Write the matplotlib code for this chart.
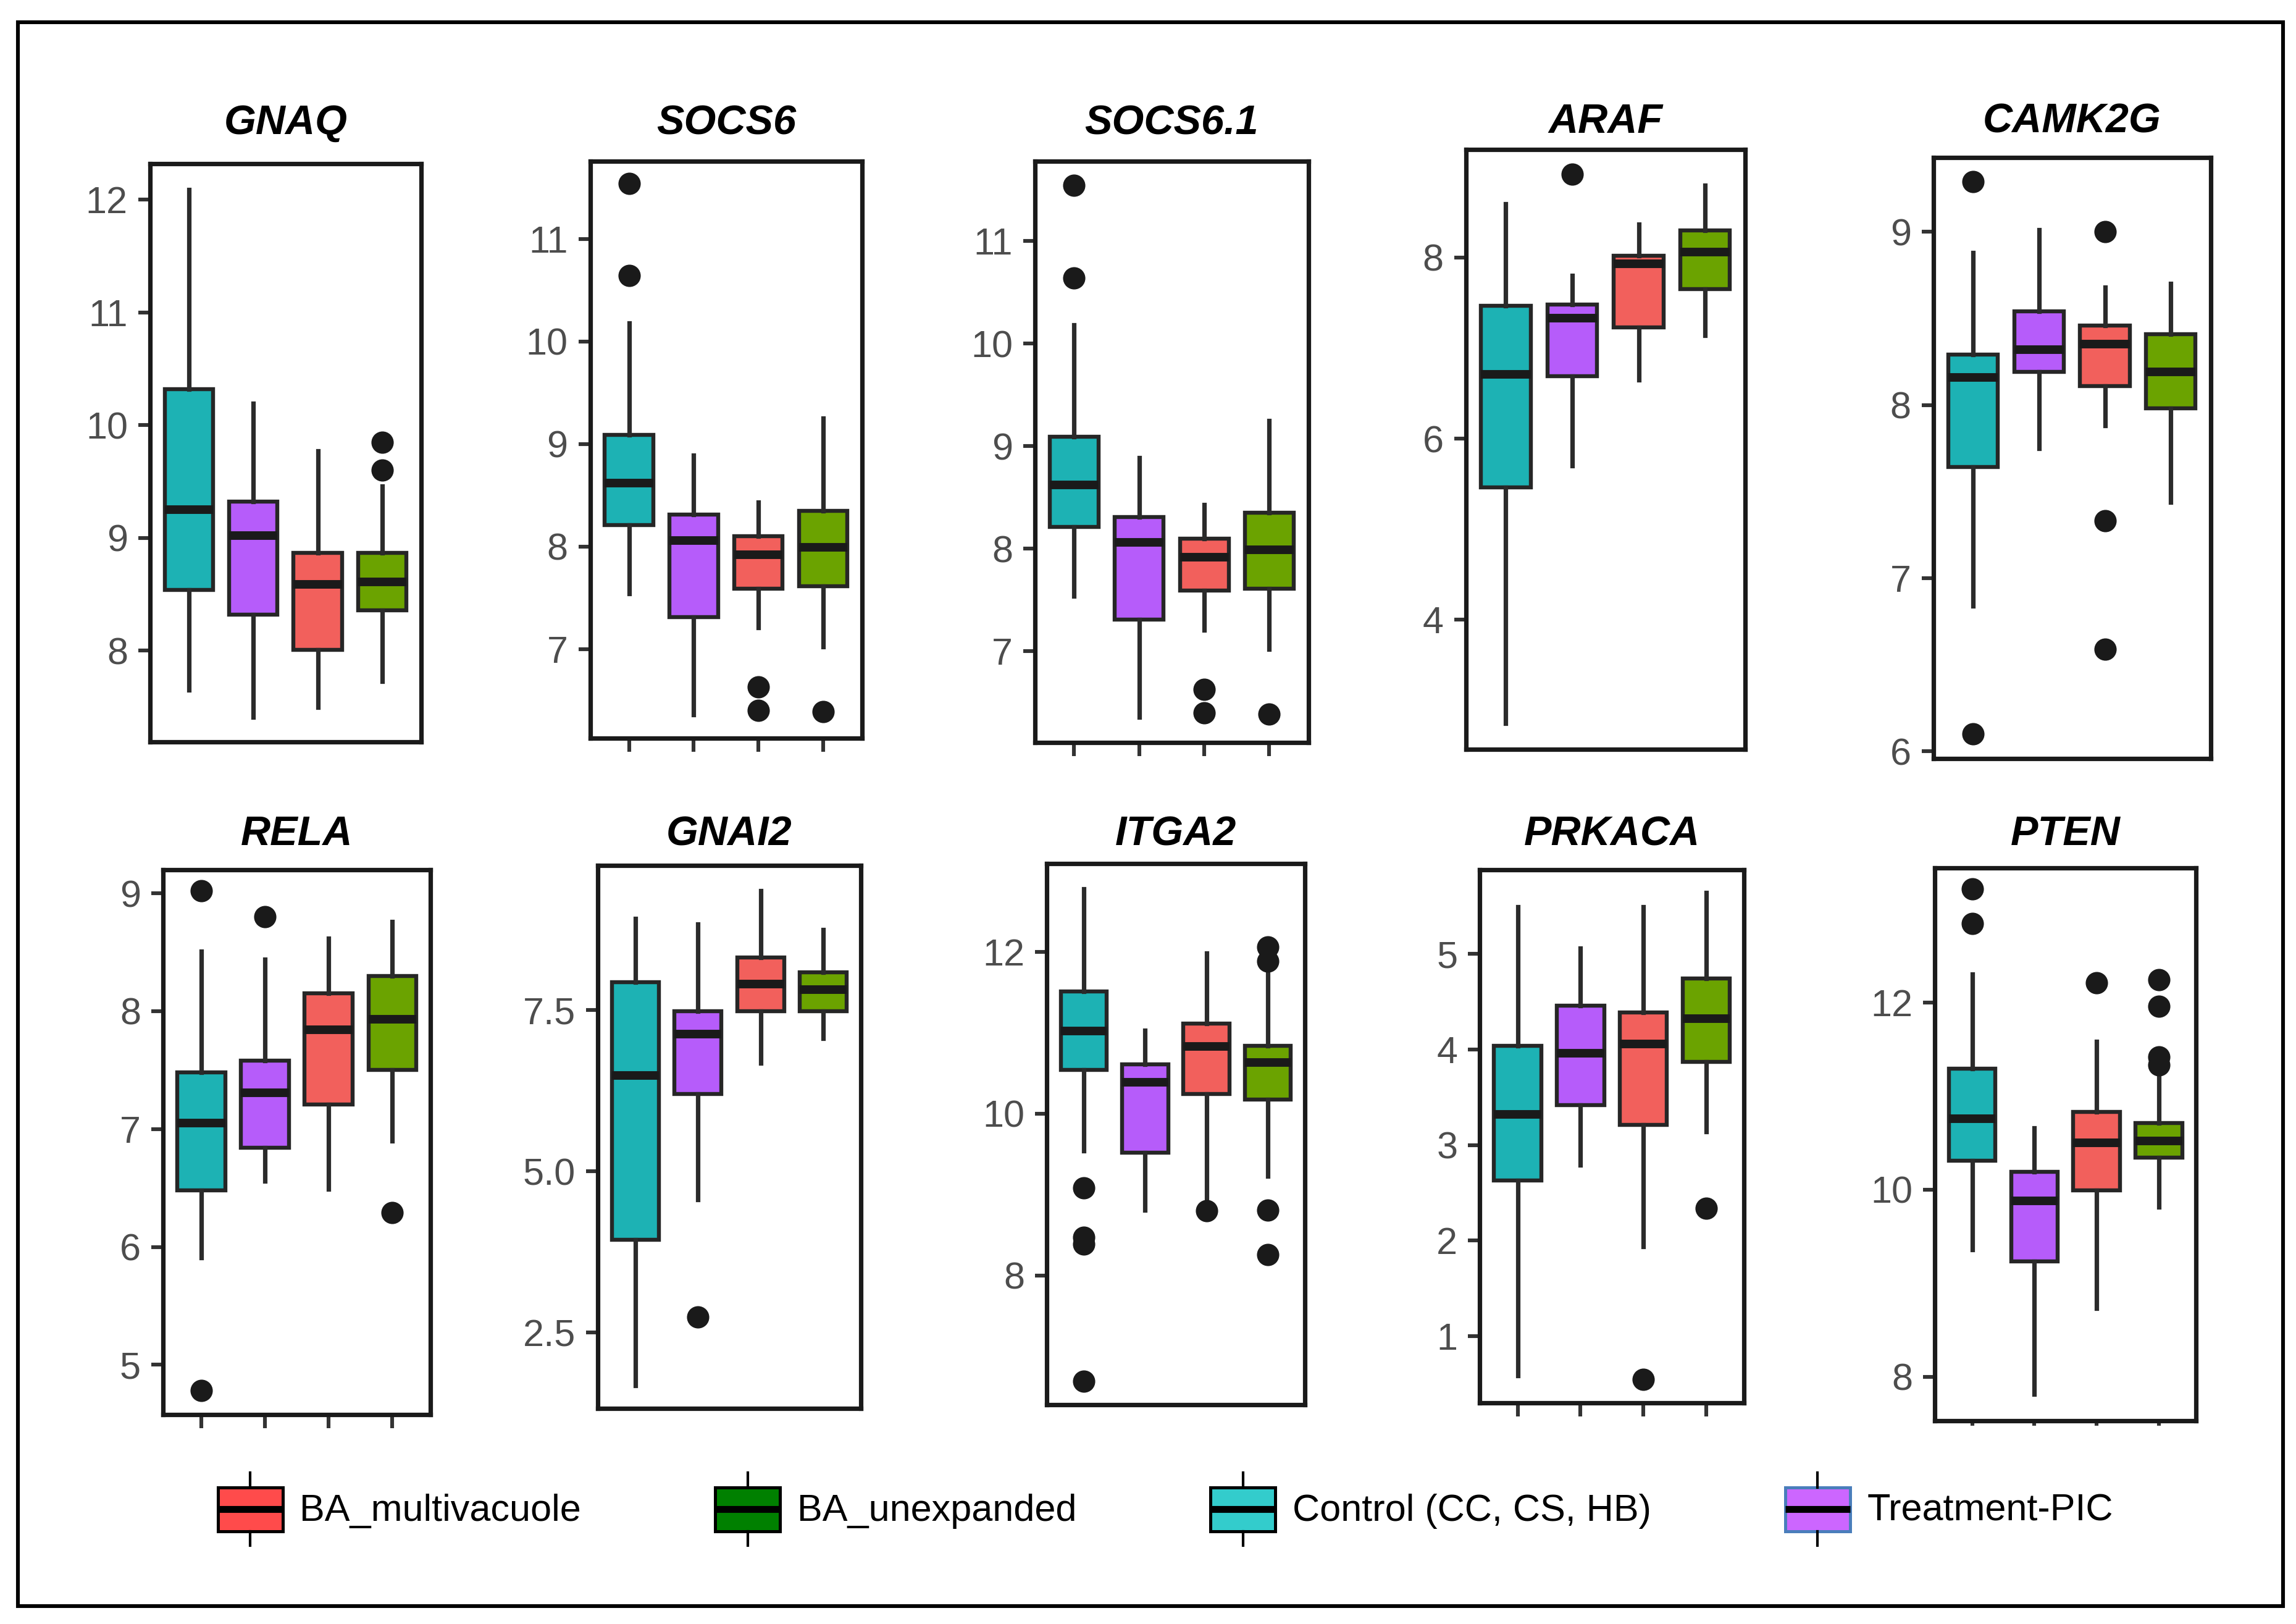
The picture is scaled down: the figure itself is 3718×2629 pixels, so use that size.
import matplotlib
matplotlib.use("Agg")
import matplotlib.pyplot as plt
from matplotlib.patches import Rectangle, Patch
from matplotlib.lines import Line2D
from matplotlib.legend_handler import HandlerBase

plt.rcParams['font.family'] = ['Liberation Sans', 'DejaVu Sans']

# ------------------------------------------
# data
# order inside each gene: Control, Treatment-PIC, BA_multivacuole, BA_unexpanded
# ------------------------------------------
genes = ["GNAQ", "SOCS6", "SOCS6.1", "ARAF", "CAMK2G",
         "RELA", "GNAI2", "ITGA2", "PRKACA", "PTEN"]

group_colors = ["#1DB2B4", "#B65CFA", "#F2605C", "#6BA300"]

whislo = [[7.65, 7.41, 7.50, 7.73],
          [7.54, 6.36, 7.21, 7.02],
          [7.54, 6.36, 7.21, 7.02],
          [2.86, 5.70, 6.65, 7.14],
          [6.84, 7.75, 7.88, 7.44],
          [5.91, 6.56, 6.49, 6.90],
          [1.68, 4.56, 6.68, 7.06],
          [9.54, 8.81, 8.82, 9.23],
          [0.59, 2.79, 1.94, 3.14],
          [9.36, 7.81, 8.73, 9.81]]

q1 = [[8.54, 8.32, 8.01, 8.36],
      [8.21, 7.31, 7.59, 7.61],
      [8.21, 7.31, 7.59, 7.61],
      [5.46, 6.69, 7.23, 7.65],
      [7.64, 8.19, 8.11, 7.98],
      [6.48, 6.84, 7.21, 7.50],
      [3.94, 6.20, 7.48, 7.48],
      [10.54, 9.52, 10.24, 10.17],
      [2.63, 3.42, 3.21, 3.87],
      [10.31, 9.23, 9.99, 10.34]]

med = [[9.25, 9.02, 8.59, 8.61],
       [8.62, 8.06, 7.92, 7.99],
       [8.62, 8.06, 7.92, 7.99],
       [6.71, 7.33, 7.93, 8.06],
       [8.16, 8.32, 8.35, 8.19],
       [7.05, 7.31, 7.84, 7.93],
       [6.49, 7.13, 7.90, 7.82],
       [11.02, 10.39, 10.83, 10.63],
       [3.32, 3.96, 4.06, 4.32],
       [10.76, 9.88, 10.50, 10.52]]

q3 = [[10.32, 9.32, 8.87, 8.87],
      [9.09, 8.31, 8.10, 8.35],
      [9.09, 8.31, 8.10, 8.35],
      [7.47, 7.48, 8.02, 8.30],
      [8.29, 8.54, 8.46, 8.41],
      [7.48, 7.58, 8.15, 8.30],
      [7.93, 7.48, 8.32, 8.09],
      [11.51, 10.61, 11.11, 10.84],
      [4.04, 4.46, 4.39, 4.74],
      [11.29, 10.19, 10.83, 10.71]]

whishi = [[12.09, 10.19, 9.77, 9.46],
          [10.18, 8.89, 8.43, 9.25],
          [10.18, 8.89, 8.43, 9.25],
          [8.59, 7.80, 8.37, 8.80],
          [8.88, 9.01, 8.68, 8.70],
          [8.51, 8.44, 8.62, 8.76],
          [8.92, 8.83, 9.35, 8.75],
          [12.78, 11.03, 11.98, 11.73],
          [5.49, 5.06, 5.49, 5.64],
          [12.30, 10.66, 11.58, 11.20]]

fliers = [[[], [], [], [9.85, 9.60]],
          [[11.54, 10.64], [], [6.63, 6.40], [6.39]],
          [[11.54, 10.64], [], [6.63, 6.40], [6.39]],
          [[], [8.92], [], []],
          [[9.29, 6.10], [], [9.00, 7.33, 6.59], []],
          [[9.02, 4.78], [8.80], [], [6.29]],
          [[], [2.74], [], []],
          [[9.08, 8.47, 8.39, 6.69], [], [8.80], [12.06, 11.88, 8.81, 8.26]],
          [[], [], [0.55], [2.34]],
          [[13.21, 12.84], [], [12.21], [12.24, 11.96, 11.42, 11.33]]]

y_limits = [(7.19, 12.32), (6.13, 11.76), (6.11, 11.78), (2.57, 9.19), (5.96, 9.43),
            (4.58, 9.20), (1.33, 9.74), (6.40, 13.09), (0.30, 5.88), (7.53, 13.44)]

y_ticks = [[8, 9, 10, 11, 12], [7, 8, 9, 10, 11], [7, 8, 9, 10, 11], [4, 6, 8], [6, 7, 8, 9],
           [5, 6, 7, 8, 9], [2.5, 5.0, 7.5], [8, 10, 12], [1, 2, 3, 4, 5], [8, 10, 12]]

y_ticklabels = [["8", "9", "10", "11", "12"], ["7", "8", "9", "10", "11"],
                ["7", "8", "9", "10", "11"], ["4", "6", "8"], ["6", "7", "8", "9"],
                ["5", "6", "7", "8", "9"], ["2.5", "5.0", "7.5"], ["8", "10", "12"],
                ["1", "2", "3", "4", "5"], ["8", "10", "12"]]

legend_labels = ["BA_multivacuole", "BA_unexpanded", "Control (CC, CS, HB)", "Treatment-PIC"]
legend_colors = ["#FF4B4B", "#008000", "#33CCCC", "#CC66FF"]
legend_edges = ["black", "black", "black", "#4A7EBB"]

# ------------------------------------------
# layout (reference pixel boxes, 1560 x 1103 scale)
# ------------------------------------------
W, H = 1560.0, 1103.0
panel_px = [(102, 286, 111, 504), (401, 585.6, 109.3, 501.4), (703.3, 888.9, 109.3, 504.4),
            (996, 1185.6, 101.7, 509), (1313.6, 1501.9, 106.8, 515),
            (110.8, 292.5, 590.7, 960.6), (406.3, 584.7, 587.9, 956.4),
            (711.3, 886.4, 586.5, 954.2), (1005.5, 1185, 590.7, 953),
            (1314.6, 1492.2, 589.3, 964.9)]
xtick_len = [0, 8, 8, 0, 0, 8, 0, 0, 8, 3]
title_y = [84, 84, 84, 83, 83, 567, 567, 567, 567, 567]

fig = plt.figure(figsize=(18.59, 13.145), dpi=200)

# outer frame
fig.patches.append(Rectangle((12 / W, 1 - 1091 / H), (1551 - 12) / W, (1091 - 15) / H,
                             transform=fig.transFigure, fill=False,
                             edgecolor="black", linewidth=2.2))

for i, g in enumerate(genes):
    x0, x1, yt, yb = panel_px[i]
    ax = fig.add_axes([x0 / W, 1 - yb / H, (x1 - x0) / W, (yb - yt) / H])
    stats = []
    for j in range(4):
        stats.append(dict(med=med[i][j], q1=q1[i][j], q3=q3[i][j],
                          whislo=whislo[i][j], whishi=whishi[i][j],
                          fliers=fliers[i][j]))
    bp = ax.bxp(stats, positions=[1, 2, 3, 4], widths=0.75, patch_artist=True,
                showcaps=False,
                boxprops=dict(linewidth=2.3, edgecolor="#262626"),
                whiskerprops=dict(linewidth=2.6, color="#2B2B2B"),
                medianprops=dict(linewidth=5, color="#1A1A1A", solid_capstyle="butt"),
                flierprops=dict(marker="o", markersize=12, markerfacecolor="#1A1A1A",
                                markeredgecolor="#1A1A1A"))
    for patch, c in zip(bp["boxes"], group_colors):
        patch.set_facecolor(c)

    ax.set_xlim(0.4, 4.6)
    ax.set_ylim(*y_limits[i])
    ax.set_yticks(y_ticks[i])
    ax.set_yticklabels(y_ticklabels[i])
    ax.set_xticks([1, 2, 3, 4])
    ax.set_xticklabels([])
    ax.tick_params(axis="y", length=7, width=2.2, color="#333333",
                   labelsize=22, labelcolor="#4D4D4D", pad=6)
    ax.tick_params(axis="x", length=xtick_len[i], width=2.2, color="#333333")
    for s in ax.spines.values():
        s.set_linewidth(2.6)
        s.set_color("#1A1A1A")

    fig.text((x0 + x1) / 2 / W, 1 - title_y[i] / H, g, ha="center", va="center",
             fontsize=24, fontweight="bold", fontstyle="italic", color="black")


# ------------------------------------------
# legend with small boxplot keys
# ------------------------------------------
class BoxKey(HandlerBase):
    def create_artists(self, legend, orig_handle, xdescent, ydescent,
                       width, height, fontsize, trans):
        bx = -xdescent
        by = -ydescent
        cx = bx + width / 2
        box = Rectangle((bx, by + height * 0.2), width, height * 0.6,
                        facecolor=orig_handle.get_facecolor(),
                        edgecolor=orig_handle.get_edgecolor(),
                        linewidth=1.8, transform=trans)
        lo = Line2D([cx, cx], [by, by + height * 0.2], color="black", lw=1.5, transform=trans)
        hi = Line2D([cx, cx], [by + height * 0.8, by + height], color="black", lw=1.5, transform=trans)
        md = Line2D([bx, bx + width], [by + height / 2] * 2, color="black", lw=4,
                    solid_capstyle="butt", transform=trans)
        return [box, lo, hi, md]


handles = [Patch(facecolor=c, edgecolor=e) for c, e in zip(legend_colors, legend_edges)]
fig.legend(handles, legend_labels, handler_map={Patch: BoxKey()},
           loc="center left", bbox_to_anchor=(148 / W, 1 - 1025 / H),
           ncol=4, frameon=False, fontsize=22, handlelength=1.72, handleheight=2.6,
           handletextpad=0.45, columnspacing=3.55, borderpad=0, borderaxespad=0)

plt.savefig("out.png", dpi=200)
plt.close()
